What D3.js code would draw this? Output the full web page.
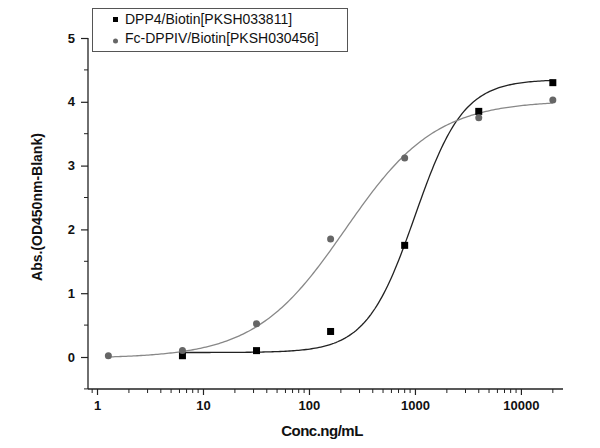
<!DOCTYPE html>
<html><head><meta charset="utf-8">
<script src="https://cdn.jsdelivr.net/npm/d3@7"></script>
<style>body{margin:0;background:#fff}text{font-family:"Liberation Sans",Arial,sans-serif}</style>
</head><body><svg width="600" height="448"></svg>
<script>
const seriesNames = ["DPP4/Biotin[PKSH033811]", "Fc-DPPIV/Biotin[PKSH030456]"];
const dppConc = [6.4, 32, 160, 800, 4000, 20000];
const dppAbs = [0.02, 0.1, 0.4, 1.75, 3.85, 4.3];
const fcConc = [1.28, 6.4, 32, 160, 800, 4000, 20000];
const fcAbs = [0.02, 0.1, 0.52, 1.85, 3.12, 3.75, 4.03];
// 4PL fit parameters [bottom, top, EC50, hill]
const dppFit = [0.07, 4.35, 1000, 1.9];
const fcFit = [-0.02, 4.02, 220, 1.02];
const xTicks = [1, 10, 100, 1000, 10000];
const yTicks = [0, 1, 2, 3, 4, 5];

const svg = d3.select("svg");
const L = 88, R = 563, B = 389;
const x = d3.scaleLog().domain([10 ** -0.085, 10 ** 4.397]).range([L, R]);
const y = d3.scaleLinear().domain([0, 5]).range([357, 38]);

svg.append("line").attr("x1", L).attr("x2", L).attr("y1", y(5)).attr("y2", B).attr("stroke", "#222").attr("stroke-width", 1.3);
svg.append("line").attr("x1", L).attr("x2", R).attr("y1", B).attr("y2", B).attr("stroke", "#222").attr("stroke-width", 1.3);

const xa = svg.append("g").attr("transform", `translate(0,${B})`)
  .call(d3.axisBottom(x).tickValues(xTicks).tickFormat(d3.format("d")).tickSizeOuter(0).tickSize(6).tickPadding(6));
const ya = svg.append("g").attr("transform", `translate(${L},0)`)
  .call(d3.axisLeft(y).tickValues(yTicks).tickFormat(d3.format("d")).tickSizeOuter(0).tickSize(7).tickPadding(6));
[xa, ya].forEach(a => { a.select(".domain").remove(); a.selectAll("line").attr("stroke", "#222").attr("stroke-width", 1.2); a.selectAll("text").attr("font-size", 13).attr("font-weight", "bold").attr("fill", "#111"); });
// minor x ticks
const minor = [];
for (let e = -1; e <= 4; e++) for (let k = 2; k <= 9; k++) { const v = k * 10 ** e; if (x(v) >= L && x(v) <= R) minor.push(v); }
svg.append("g").selectAll("line").data(minor).join("line")
  .attr("x1", d => x(d)).attr("x2", d => x(d)).attr("y1", B).attr("y2", B + 4).attr("stroke", "#222");
// minor y ticks
svg.append("g").selectAll("line").data([-0.5, 0.5, 1.5, 2.5, 3.5, 4.5]).join("line")
  .attr("x1", L).attr("x2", L - 4).attr("y1", d => y(d)).attr("y2", d => y(d)).attr("stroke", "#222");

svg.append("text").attr("x", 322).attr("y", 436).attr("text-anchor", "middle")
  .attr("font-size", 15).attr("font-weight", "bold").attr("fill", "#111").attr("letter-spacing", -0.5).text("Conc.ng/mL");
svg.append("text").attr("transform", `translate(42,${y(2.35)}) rotate(-90)`).attr("text-anchor", "middle")
  .attr("font-size", 14).attr("font-weight", "bold").attr("fill", "#111").text("Abs.(OD450nm-Blank)");

const f4 = p => c => p[0] + (p[1] - p[0]) / (1 + Math.pow(p[2] / c, p[3]));
const grid = d3.range(0, 241).map(i => 10 ** (0.1 + i * (4.3 - 0.1) / 240));
const line = d3.line().x(d => x(d[0])).y(d => y(d[1]));
svg.append("path").attr("d", line(grid.filter(c => c >= 6.4).map(c => [c, f4(dppFit)(c)])))
  .attr("fill", "none").attr("stroke", "#222").attr("stroke-width", 1.3);
svg.append("path").attr("d", line(grid.map(c => [c, f4(fcFit)(c)])))
  .attr("fill", "none").attr("stroke", "#888").attr("stroke-width", 1.3);

svg.append("g").selectAll("rect").data(dppConc.map((c, i) => [c, dppAbs[i]])).join("rect")
  .attr("x", d => x(d[0]) - 3.5).attr("y", d => y(d[1]) - 3.5).attr("width", 7).attr("height", 7).attr("fill", "#000");
svg.append("g").selectAll("circle").data(fcConc.map((c, i) => [c, fcAbs[i]])).join("circle")
  .attr("cx", d => x(d[0])).attr("cy", d => y(d[1])).attr("r", 3.5).attr("fill", "#666");

const lg = svg.append("g");
lg.append("rect").attr("x", 92.5).attr("y", 8.5).attr("width", 255).attr("height", 43).attr("fill", "#fff").attr("stroke", "#555");
lg.append("rect").attr("x", 113).attr("y", 17).attr("width", 5).attr("height", 5).attr("fill", "#000");
lg.append("circle").attr("cx", 115.5).attr("cy", 41).attr("r", 2.5).attr("fill", "#666");
lg.selectAll("text").data(seriesNames).join("text").attr("x", 125).attr("y", (d, i) => 24 + i * 19)
  .attr("font-size", 14).attr("fill", "#111").text(d => d);
</script></body></html>
